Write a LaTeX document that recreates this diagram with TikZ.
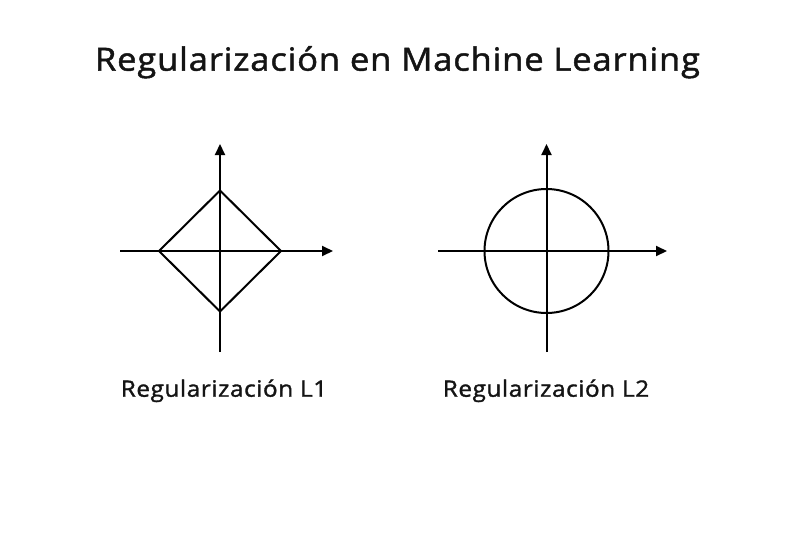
\documentclass[tikz,border=0pt]{standalone}
\usepackage{fontspec}
\setmainfont{Open Sans}
\newfontfamily\spaced[LetterSpace=2.6,FakeStretch=1.08,FakeBold=1.4]{Open Sans}
\usetikzlibrary{arrows.meta}
\begin{document}
\begin{tikzpicture}[x=1pt,y=-1pt,
  axis/.style={line width=2pt,-{Triangle[length=11pt,width=10pt]}},
  shapeline/.style={line width=2pt,line join=miter},
  lbl/.style={font=\spaced\fontsize{22.5}{26}\selectfont,text=black!92,inner sep=0pt,anchor=base}]
\useasboundingbox[fill=white] (0,0) rectangle (800,533);
\node[font=\spaced\fontsize{32}{36}\selectfont,text=black!92,inner sep=0pt,anchor=base] (title) at (397.5,70.7) {Regularización en Machine Learning};
% L1
\coordinate (o1) at (220,251);
\coordinate (l1x0) at (120,251);
\coordinate (l1x1) at (333,251);
\coordinate (l1y0) at (220,352);
\coordinate (l1y1) at (220,144);
\draw[axis] (l1x0) -- (l1x1);
\draw[axis] (l1y0) -- (l1y1);
\coordinate (d1) at (220,190.5);
\coordinate (d2) at (281,251);
\coordinate (d3) at (220,311.5);
\coordinate (d4) at (159,251);
\draw[shapeline] (d1) -- (d2) -- (d3) -- (d4) -- cycle;
% L2
\coordinate (o2) at (546.5,251);
\coordinate (l2x0) at (438,251);
\coordinate (l2x1) at (667,251);
\coordinate (l2y0) at (546.5,352);
\coordinate (l2y1) at (546.5,144);
\draw[axis] (l2x0) -- (l2x1);
\draw[axis] (l2y0) -- (l2y1);
\draw[shapeline] (o2) circle[radius=62];
% labels
\node[lbl] (lab1) at (224,396.7) {Regularización L1};
\node[lbl] (lab2) at (546,396.7) {Regularización L2};
\end{tikzpicture}
\end{document}
